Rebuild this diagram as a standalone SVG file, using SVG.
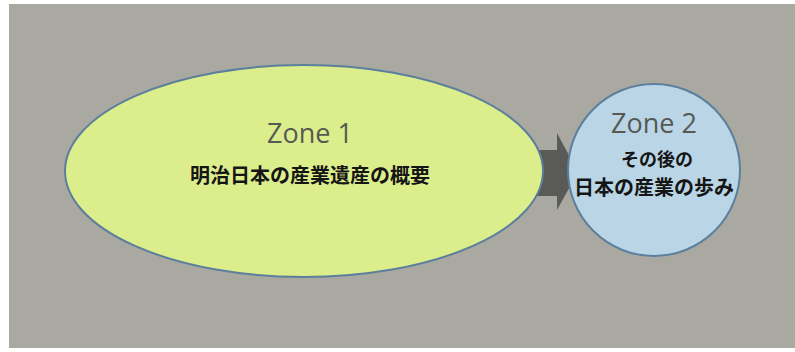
<svg xmlns="http://www.w3.org/2000/svg" width="795" height="352" viewBox="0 0 795 352">
<style>
.zone{font-family:"Open Sans","Liberation Sans",sans-serif;font-size:27px;fill:#565954;text-anchor:middle}
.jp{font-family:"Noto Sans CJK JP","Noto Sans CJK SC",sans-serif;font-weight:bold;font-size:20px;fill:#151515;text-anchor:middle}
.jp1{font-size:18px}
.shape{stroke:#5b7f9c;stroke-width:2}
</style>
<rect x="0" y="0" width="795" height="352" fill="#ffffff"/>
<rect x="9" y="4" width="786" height="344" fill="#a9a8a1"/>
<g id="connectors">
<polygon points="536,150 557,150 557,133 578,172 557,210 557,196 536,196" fill="#5a5a56"/>
</g>
<g id="zone1">
<ellipse class="shape" cx="304" cy="171" rx="239" ry="106" fill="#dcee8c"/>
<text class="zone" x="310" y="143">Zone 1</text>
<text class="jp" x="310" y="183">明治日本の産業遺産の概要</text>
</g>
<g id="zone2">
<circle class="shape" cx="654" cy="170" r="86" fill="#b9d5e6"/>
<text class="zone" x="654" y="133">Zone 2</text>
<text class="jp jp1" x="657" y="166">その後の</text>
<text class="jp" x="654" y="195" textLength="160" lengthAdjust="spacing">日本の産業の歩み</text>
</g>
</svg>
